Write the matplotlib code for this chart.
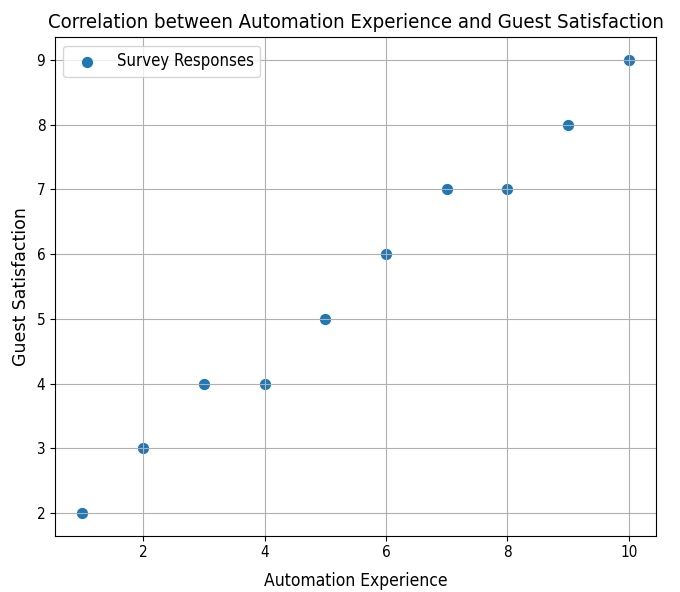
import matplotlib
matplotlib.use('Agg')
import matplotlib.pyplot as plt

# Survey data: automation experience vs guest satisfaction
automation_experience = [1, 2, 3, 4, 5, 6, 7, 8, 9, 10]
guest_satisfaction = [2, 3, 4, 4, 5, 6, 7, 7, 8, 9]

plt.rcParams['font.family'] = ['DejaVu Sans']
plt.rcParams['font.stretch'] = 'condensed'

fig, ax = plt.subplots(figsize=(6.8, 5.92), dpi=100)
fig.subplots_adjust(left=0.081, right=0.965, top=0.937, bottom=0.095)

# grid is drawn over the markers, as in the original
ax.scatter(automation_experience, guest_satisfaction, s=50, color='#1f77b4',
           label='Survey Responses')
ax.set_title('Correlation between Automation Experience and Guest Satisfaction',
             fontsize=14.6, pad=7)
ax.set_xlabel('Automation Experience', fontsize=12.5, labelpad=8)
ax.set_ylabel('Guest Satisfaction', fontsize=12.5, fontstretch='normal', labelpad=5)
ax.tick_params(labelsize=11)
ax.grid(True)
ax.legend(loc='upper left', fontsize=12)

fig.savefig('out.png', dpi=100)
